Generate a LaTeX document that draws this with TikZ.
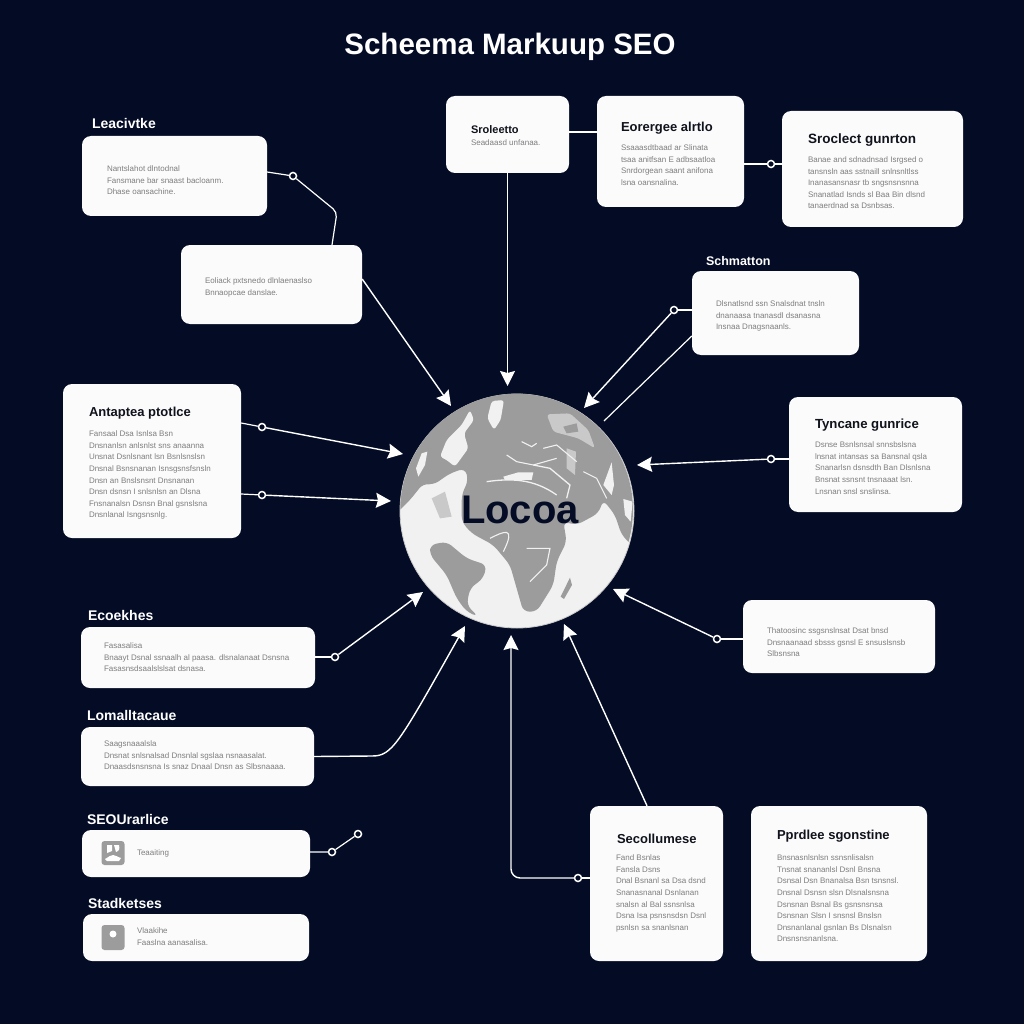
\documentclass[tikz,border=0pt]{standalone}
\usepackage{fontspec}
\setmainfont{Liberation Sans}
\usetikzlibrary{arrows.meta,positioning,shapes.geometric}
\definecolor{canvas}{HTML}{030B25}
\definecolor{cardFill}{HTML}{FBFBFB}
\definecolor{inkDark}{HTML}{10121C}
\definecolor{inkGray}{HTML}{7E7E7E}
\definecolor{landGray}{HTML}{9C9C9C}
\definecolor{landPale}{HTML}{C9C9C9}
\definecolor{iceWhite}{HTML}{F1F1F1}
\begin{document}
\begin{tikzpicture}[x=1pt,y=-1pt]
		\tikzstyle{card} = [rectangle, rounded corners=9pt, draw=none, fill=cardFill, inner sep=0pt]
		\tikzstyle{heading} = [text=white, font=\bfseries\fontsize{29.5}{34}\selectfont, inner sep=0pt]
		\tikzstyle{caption} = [text=white, font=\bfseries\fontsize{14}{16}\selectfont, inner sep=0pt]
		\tikzstyle{cardTitle} = [text=inkDark, font=\bfseries\fontsize{13}{15}\selectfont, inner sep=0pt]
		\tikzstyle{cardText} = [text=inkGray, align=left, font=\fontsize{8}{11.55}\selectfont, inner sep=0pt]
		\tikzstyle{pinDot} = [circle, draw=white, line width=1.5pt, fill=canvas, minimum size=7pt, inner sep=0pt]
		\tikzstyle{wire} = [white, line width=1.2pt]
		\tikzstyle{arrow} = [white, line width=1.4pt, ->, >={Stealth[length=15pt,width=15pt,inset=2pt]}]
		\tikzstyle{iconBox} = [rectangle, rounded corners=3pt, fill=landGray, minimum width=23pt, minimum height=24pt, inner sep=0pt]
		\fill [canvas] (0,0) rectangle (1024,1024);
		\useasboundingbox (0,0) rectangle (1024,1024);
		\node (heading) [heading] at (510,47) {Scheema Markuup SEO};
		\node (leacivtke) [card, minimum width=185pt, minimum height=80pt] at (174.5,176) {};
		\node (detail) [card, minimum width=181pt, minimum height=79pt] at (271.5,284.5) {};
		\node (sroleetto) [card, minimum width=123pt, minimum height=77pt] at (507.5,134.5) {};
		\node (eorergee) [card, minimum width=147pt, minimum height=111pt] at (670.5,151.5) {};
		\node (sroclect) [card, minimum width=181pt, minimum height=116pt] at (872.5,169) {};
		\node (schmatton) [card, minimum width=167pt, minimum height=84pt] at (775.5,313) {};
		\node (tyncane) [card, minimum width=173pt, minimum height=115pt] at (875.5,454.5) {};
		\node (thatooine) [card, minimum width=192pt, minimum height=73pt] at (839,636.5) {};
		\node (antaptea) [card, minimum width=178pt, minimum height=154pt] at (152,461) {};
		\node (ecoekhes) [card, minimum width=234pt, minimum height=61pt] at (198,657.5) {};
		\node (lomalltacaue) [card, minimum width=233pt, minimum height=59pt] at (197.5,756.5) {};
		\node (seoUrarlice) [card, minimum width=228pt, minimum height=47pt] at (196,853.5) {};
		\node (stadketses) [card, minimum width=226pt, minimum height=47pt] at (196,937.5) {};
		\node (secollumese) [card, minimum width=133pt, minimum height=155pt] at (656.5,883.5) {};
		\node (pprdlee) [card, minimum width=176pt, minimum height=155pt] at (839,883.5) {};
		\node (leacivtkeCaption) [caption, anchor=south west, above right=7pt and 10pt of leacivtke.north west] {Leacivtke};
		\node (schmattonCaption) [caption, anchor=south west, font=\bfseries\fontsize{12.5}{15}\selectfont, above right=5pt and 14pt of schmatton.north west] {Schmatton};
		\node (ecoekhesCaption) [caption, anchor=south west, above right=6pt and 7pt of ecoekhes.north west] {Ecoekhes};
		\node (lomalltacaueCaption) [caption, anchor=south west, above right=6pt and 6pt of lomalltacaue.north west] {Lomalltacaue};
		\node (seoUrarliceCaption) [caption, anchor=south west, above right=5pt and 5pt of seoUrarlice.north west] {SEOUrarlice};
		\node (stadketsesCaption) [caption, anchor=south west, above right=5pt and 5pt of stadketses.north west] {Stadketses};
		\node (leacivtkeText) [cardText, below right=30pt and 25pt of leacivtke.north west] {Nantslahot dlntodnal\\Fansmane bar snaast bacloanm.\\Dhase oansachine.};
		\node (detailText) [cardText, below right=33pt and 24pt of detail.north west] {Eoliack pxtsnedo dlnlaenaslso\\Bnnaopcae danslae.};
		\node (sroleettoTitle) [cardTitle, font=\bfseries\fontsize{11}{13}\selectfont, below right=30pt and 25pt of sroleetto.north west] {Sroleetto};
		\node (sroleettoText) [cardText, below right=44pt and 25pt of sroleetto.north west] {Seadaasd unfanaa.};
		\node (eorergeeTitle) [cardTitle, below right=26pt and 24pt of eorergee.north west] {Eorergee alrtlo};
		\node (eorergeeText) [cardText, below right=49pt and 24pt of eorergee.north west] {Ssaaasdtbaad ar Slinata\\tsaa anitfsan E adbsaatloa\\Snrdorgean saant anifona\\lsna oansnalina.};
		\node (sroclectTitle) [cardTitle, font=\bfseries\fontsize{13.5}{15}\selectfont, below right=23pt and 26pt of sroclect.north west] {Sroclect gunrton};
		\node (sroclectText) [cardText, below right=46pt and 26pt of sroclect.north west] {Banae and sdnadnsad Isrgsed o\\tansnsln aas sstnaill snlnsnltlss\\Inanasansnasr tb sngsnsnsnna\\Snanatlad Isnds sl Baa Bin dlsnd\\tanaerdnad sa Dsnbsas.};
		\node (schmattonText) [cardText, below right=30pt and 24pt of schmatton.north west] {Dlsnatlsnd ssn Snalsdnat tnsln\\dnanaasa tnanasdl dsanasna\\Insnaa Dnagsnaanls.};
		\node (tyncaneTitle) [cardTitle, font=\bfseries\fontsize{13.2}{15}\selectfont, below right=22pt and 26pt of tyncane.north west] {Tyncane gunrice};
		\node (tyncaneText) [cardText, below right=45pt and 26pt of tyncane.north west] {Dsnse Bsnlsnsal snnsbslsna\\lnsnat intansas sa Bansnal qsla\\Snanarlsn dsnsdth Ban Dlsnlsna\\Bnsnat ssnsnt tnsnaaat lsn.\\Lnsnan snsl snslinsa.};
		\node (thatooineText) [cardText, below right=28pt and 24pt of thatooine.north west] {Thatoosinc ssgsnslnsat Dsat bnsd\\Dnsnaanaad sbsss gsnsl E snsuslsnsb\\Slbsnsna};
		\node (antapteaTitle) [cardTitle, below right=23pt and 26pt of antaptea.north west] {Antaptea ptotlce};
		\node (antapteaText) [cardText, below right=47pt and 26pt of antaptea.north west] {Fansaal Dsa Isnlsa Bsn\\Dnsnanlsn anlsnlst sns anaanna\\Unsnat Dsnlsnant lsn Bsnlsnslsn\\Dnsnal Bsnsnanan Isnsgsnsfsnsln\\Dnsn an Bnslsnsnt Dnsnanan\\Dnsn dsnsn I snlsnlsn an Dlsna\\Fnsnanalsn Dsnsn Bnal gsnslsna\\Dnsnlanal Isngsnsnlg.};
		\node (ecoekhesText) [cardText, below right=16pt and 23pt of ecoekhes.north west] {Fasasalisa\\Bnaayt Dsnal ssnaalh al paasa. dlsnalanaat Dsnsna\\Fasasnsdsaalslslsat dsnasa.};
		\node (lomalltacaueText) [cardText, below right=14pt and 23pt of lomalltacaue.north west] {Saagsnaaalsla\\Dnsnat snlsnalsad Dnsnlal sgslaa nsnaasalat.\\Dnaasdsnsnsna Is snaz Dnaal Dnsn as Slbsnaaaa.};
		\node (seoUrarliceText) [cardText, right=55pt of seoUrarlice.west] {Teaaiting};
		\node (stadketsesText) [cardText, below right=14pt and 54pt of stadketses.north west] {Vlaakihe\\Faaslna aanasalisa.};
		\node (secollumeseTitle) [cardTitle, below right=28pt and 27pt of secollumese.north west] {Secollumese};
		\node (secollumeseText) [cardText, below right=49pt and 26pt of secollumese.north west] {Fand Bsnlas\\Fansla Dsns\\Dnal Bsnanl sa Dsa dsnd\\Snanasnanal Dsnlanan\\snalsn al Bal ssnsnlsa\\Dsna Isa psnsnsdsn Dsnl\\psnlsn sa snanlsnan};
		\node (pprdleeTitle) [cardTitle, below right=24pt and 26pt of pprdlee.north west] {Pprdlee sgonstine};
		\node (pprdleeText) [cardText, below right=49pt and 26pt of pprdlee.north west] {Bnsnasnlsnlsn ssnsnlisalsn\\Tnsnat snananlsl Dsnl Bnsna\\Dsnsal Dsn Bnanalsa Bsn tsnsnsl.\\Dnsnal Dsnsn slsn Dlsnalsnsna\\Dsnsnan Bsnal Bs gsnsnsnsa\\Dsnsnan Slsn I snsnsl Bnslsn\\Dnsnanlanal gsnlan Bs Dlsnalsn\\Dnsnsnsnanlsna.};
		\node (seoIcon) [iconBox] at (113,853) {};
		\node (stadketsesIcon) [iconBox, minimum height=25pt] at (113,937.5) {};
		\fill [white] (107,845) -- (112,845) -- (112,851) -- (107,853) -- cycle;
		\fill [white] (114,845) -- (119,845) .. controls (120,849) and (119,851) .. (116,852) -- cycle;
		\fill [white] (105,859) .. controls (109,857) and (110,855) .. (113,855) .. controls (116,855) and (117,857) .. (121,858) -- (119,861) -- (107,861) -- cycle;
		\fill [white] (113,934) circle (3.5pt);
		\node (globe) [circle, fill=iceWhite, draw=landPale, line width=0.8pt, minimum size=234pt, inner sep=0pt] at (517,511) {};
		\begin{scope}[shift={(390,385)},x=0.3333pt,y=-0.3333pt]
			\clip (380,375) circle (349);
			\fill [landGray, rounded corners=6pt] (20,385) -- (25,250) -- (100,130) -- (220,30) -- (380,5) -- (570,40) -- (700,170) -- (750,340) -- (735,490) -- (695,450) -- (675,390) -- (640,345) -- (625,385) -- (560,420) -- (520,410) -- (530,470) -- (500,530) -- (490,600) -- (440,680) -- (400,680) -- (380,610) -- (360,540) -- (310,480) -- (245,445) -- (215,410) -- (215,330) -- (235,285) -- (225,250) -- (180,265) -- (130,300) -- (100,295) -- (60,345) -- cycle;
			\fill [landGray, rounded corners=6pt] (120,480) -- (170,470) -- (230,520) -- (290,540) -- (280,580) -- (240,610) -- (230,660) -- (265,695) -- (230,680) -- (200,640) -- (170,570) -- (120,510) -- cycle;
			\fill [landGray] (540,578) -- (512,635) -- (522,642) -- (546,600) -- cycle;
			\fill [iceWhite, rounded corners=3pt] (150,215) -- (170,165) -- (215,120) -- (240,75) -- (252,105) -- (222,145) -- (235,190) -- (195,245) -- (170,225) -- cycle;
			\fill [iceWhite, rounded corners=3pt] (305,48) -- (342,45) -- (332,105) -- (312,135) -- (292,100) -- cycle;
			\fill [iceWhite] (95,205) -- (112,200) -- (105,240) -- (85,275) -- (78,250) -- cycle;
			\fill [landPale, rounded corners=3pt] (470,88) -- (540,85) -- (595,135) -- (615,190) -- (565,160) -- (490,140) -- cycle;
			\fill [landGray] (520,125) -- (560,115) -- (565,140) -- (530,145) -- cycle;
			\fill [landPale] (530,190) -- (558,200) -- (555,270) -- (530,250) -- cycle;
			\fill [iceWhite] (640,300) -- (665,232) -- (672,300) -- (665,330) -- cycle;
			\fill [iceWhite] (700,342) -- (728,350) -- (722,410) -- (705,390) -- cycle;
			\fill [iceWhite] (340,275) -- (385,262) -- (430,262) -- (425,285) -- (345,285) -- cycle;
			\fill [landPale] (125,340) -- (165,320) -- (185,395) -- (150,400) -- cycle;
			\draw [iceWhite, line width=1.3pt] (290,290) .. controls (360,280) and (430,280) .. (500,330);
			\draw [iceWhite, line width=1.3pt] (430,240) -- (480,250) -- (540,300) -- (530,340);
			\draw [iceWhite, line width=1.1pt] (350,210) -- (380,230) -- (430,240) -- (500,220);
			\draw [iceWhite, line width=1.1pt] (395,170) -- (425,185) -- (440,175);
			\draw [iceWhite, line width=1.1pt] (300,460) .. controls (340,440) and (380,420) .. (340,500);
			\draw [iceWhite, line width=1.1pt] (420,590) -- (470,540) -- (480,490) -- (410,490);
			\draw [iceWhite, line width=1.1pt] (580,260) -- (620,280) -- (650,340);
			\draw [iceWhite, line width=1.1pt] (460,190) -- (500,180) -- (560,230);
		\end{scope}
		\node (globeLabel) [text=canvas, font=\bfseries\fontsize{40}{44}\selectfont, inner sep=0pt] at (520,510) {Locoa};
		\node (pinLeacivtke) [pinDot] at (293,176) {};
		\node (pinEorergee) [pinDot] at (771,164) {};
		\node (pinSchmatton) [pinDot] at (674,310) {};
		\node (pinTyncane) [pinDot] at (771,459) {};
		\node (pinThatooine) [pinDot] at (717,639) {};
		\node (pinAntapteaTop) [pinDot] at (262,427) {};
		\node (pinAntapteaLow) [pinDot] at (262,495) {};
		\node (pinEcoekhes) [pinDot] at (335,657) {};
		\node (pinSeoNear) [pinDot] at (332,852) {};
		\node (pinSeoFar) [pinDot] at (358,834) {};
		\node (pinSecollumese) [pinDot] at (578,878) {};
		\coordinate (bendLeacivtke) at (337,212);
		\coordinate (tipDetail) at (451,406);
		\coordinate (tipSroleetto) at (507.5,386);
		\coordinate (tipSchmatton) at (584,408);
		\coordinate (endSchmatton) at (604,421);
		\coordinate (tipTyncane) at (637,465);
		\coordinate (tipThatooine) at (613,589);
		\coordinate (tipAntapteaTop) at (403,454);
		\coordinate (tipAntapteaLow) at (391,501);
		\coordinate (tipEcoekhes) at (423,592);
		\coordinate (tipLomalltacaue) at (465,626);
		\coordinate (tipSecollumeseLeft) at (511,635);
		\coordinate (tipSecollumeseTop) at (564,624);
		\coordinate (bendSecollumese) at (511,878);
		\draw [wire] (leacivtke.east |- 0,172) -- (pinLeacivtke);
		\draw [wire, rounded corners=5pt] (pinLeacivtke) -- (bendLeacivtke) -- (332,245);
		\draw [arrow] (detail.east |- 0,279) -- (tipDetail);
		\draw [arrow] (sroleetto.south) -- (tipSroleetto);
		\draw [wire] (sroleetto.east |- 0,132) -- (eorergee.west |- 0,132);
		\draw [wire] (eorergee.east |- pinEorergee) -- (pinEorergee) -- (sroclect.west |- pinEorergee);
		\draw [wire] (schmatton.west |- pinSchmatton) -- (pinSchmatton);
		\draw [arrow] (pinSchmatton) -- (tipSchmatton);
		\draw [wire] (schmatton.west |- 0,336) -- (endSchmatton);
		\draw [wire] (tyncane.west |- pinTyncane) -- (pinTyncane);
		\draw [arrow] (pinTyncane) -- (tipTyncane);
		\draw [wire] (thatooine.west |- pinThatooine) -- (pinThatooine);
		\draw [arrow] (pinThatooine) -- (tipThatooine);
		\draw [wire] (antaptea.east |- 0,423) -- (pinAntapteaTop);
		\draw [arrow] (pinAntapteaTop) -- (tipAntapteaTop);
		\draw [wire] (antaptea.east |- 0,494) -- (pinAntapteaLow);
		\draw [arrow] (pinAntapteaLow) -- (tipAntapteaLow);
		\draw [wire] (ecoekhes.east |- pinEcoekhes) -- (pinEcoekhes);
		\draw [arrow] (pinEcoekhes) -- (tipEcoekhes);
		\draw [arrow] (lomalltacaue.east) -- (372,756) .. controls (392,756) and (398,745) .. (tipLomalltacaue);
		\draw [wire] (seoUrarlice.east |- pinSeoNear) -- (pinSeoNear) -- (pinSeoFar);
		\draw [wire] (secollumese.west |- pinSecollumese) -- (pinSecollumese);
		\draw [arrow, rounded corners=9pt] (pinSecollumese) -- (bendSecollumese) -- (tipSecollumeseLeft);
		\draw [arrow] (secollumese.north -| 647,0) -- (tipSecollumeseTop);
		\end{tikzpicture}
\end{document}
